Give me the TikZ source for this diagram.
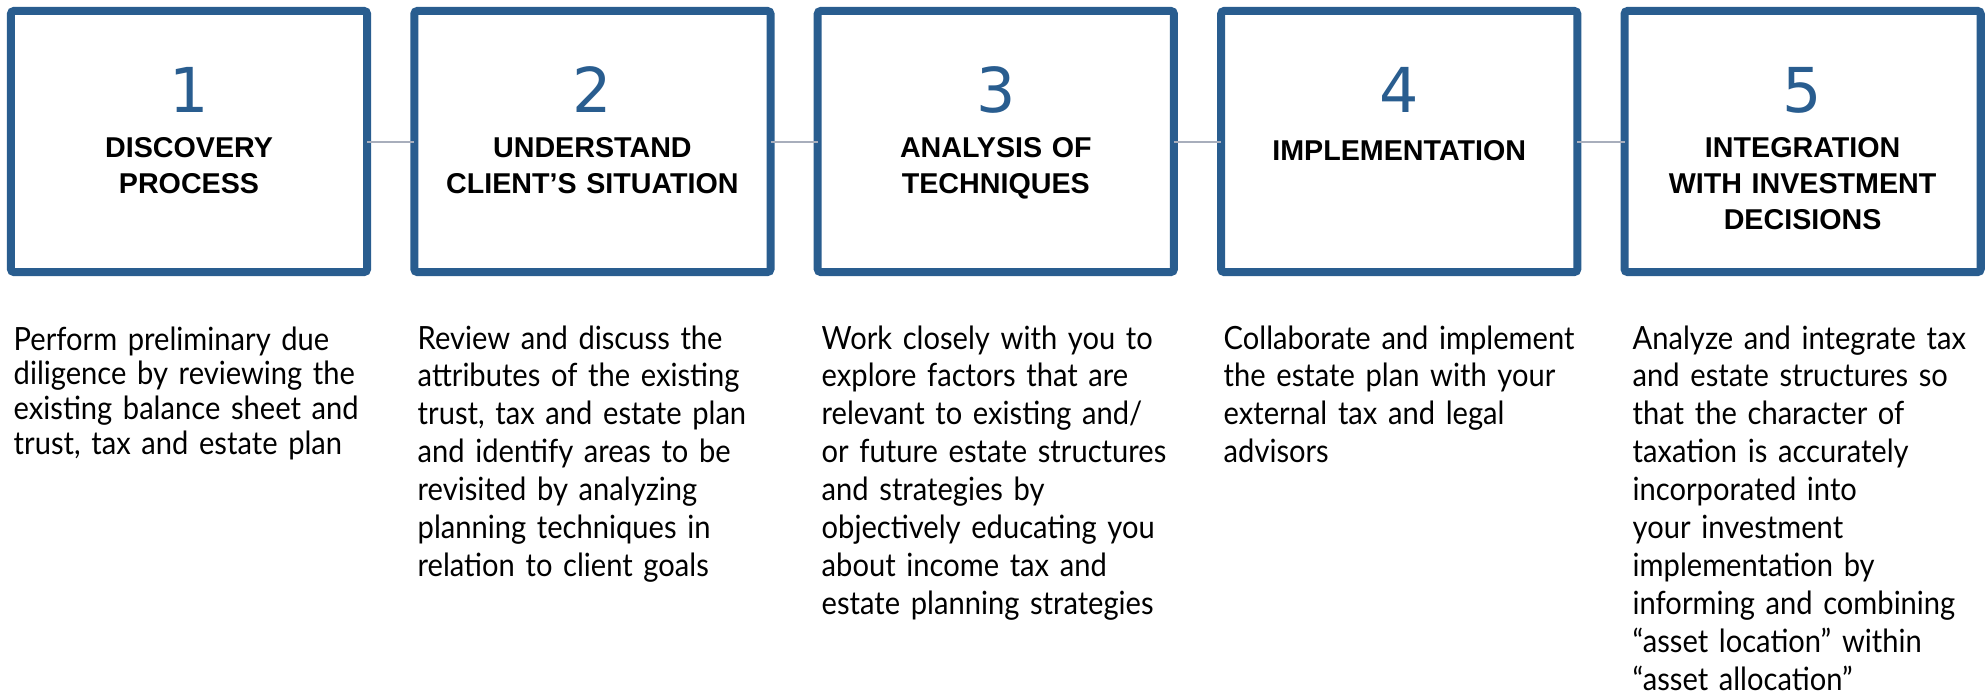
\documentclass[tikz,border=0pt]{standalone}
\usepackage{fontspec}
\setmainfont{Lato}[FakeStretch=0.91]
\newfontfamily\headfont{Liberation Sans}
\newfontfamily\numfont{DejaVu Sans}
\usetikzlibrary{calc}
\definecolor{stepblue}{RGB}{41,93,143}
\definecolor{linkgray}{RGB}{168,174,188}

\begin{document}
\begin{tikzpicture}[x=0.01cm, y=-0.01cm,
  stepbox/.style={draw=stepblue, line width=2.28pt, rounded corners=0.9pt,
    minimum width=3.56cm, minimum height=2.61cm, outer sep=0pt, inner sep=0pt},
  stepnum/.style={anchor=base, text=stepblue, inner sep=0pt,
    font=\numfont\fontsize{17.6pt}{20pt}\selectfont},
  steptitle/.style={anchor=base, align=center, text width=3.4cm, inner sep=0pt,
    font=\headfont\bfseries\fontsize{8.15pt}{10.25pt}\selectfont},
  stepnote/.style={anchor=base west, align=left, text width=4.5cm, inner sep=0pt,
    font=\fontsize{9.1pt}{10.8pt}\selectfont},
  link/.style={draw=linkgray, line width=0.57pt}]
  \useasboundingbox (0,0) rectangle (1986,699);

  \foreach \i/\title/\dy in {1/{DISCOVERY\\PROCESS}/16,
                             2/{UNDERSTAND\\CLIENT’S SITUATION}/16,
                             3/{ANALYSIS OF\\TECHNIQUES}/16,
                             4/{IMPLEMENTATION}/18.5,
                             5/{INTEGRATION\\WITH INVESTMENT\\DECISIONS}/16}{
    \node[stepbox] (s\i) at ({189+403.4*(\i-1)},141.5) {};
    \node[stepnum] (n\i) at ($(s\i.center)+(0,-29.5)$) {\i};
    \node[steptitle] (t\i) at ($(s\i.center)+(0,\dy)$) {\title};
  }
  \foreach \a/\b in {1/2,2/3,3/4,4/5}
    \draw[link] (s\a.east) -- (s\b.west);

  % texts below the boxes
  \node[stepnote, font=\fontsize{9.1pt}{9.87pt}\selectfont] (d1) at (13,350)
    {Perform preliminary due\\diligence by reviewing the\\existing balance sheet and\\trust, tax and estate plan};
  \node[stepnote] (d2) at (417,349)
    {Review and discuss the\\attributes of the existing\\trust, tax and estate plan\\and identify areas to be\\revisited by analyzing\\planning techniques in\\relation to client goals};
  \node[stepnote] (d3) at (821,349)
    {Work closely with you to\\explore factors that are\\relevant to existing and/\\or future estate structures\\and strategies by\\objectively educating you\\about income tax and\\estate planning strategies};
  \node[stepnote] (d4) at (1223,349)
    {Collaborate and implement\\the estate plan with your\\external tax and legal\\advisors};
  \node[stepnote, text width=3.52cm] (d5) at (1632,349)
    {Analyze and integrate tax\\and estate structures so\\that the character of\\taxation is accurately\\incorporated into\\your investment\\implementation by\\informing and combining\\“asset location” within\\“asset allocation”};
\end{tikzpicture}
\end{document}
